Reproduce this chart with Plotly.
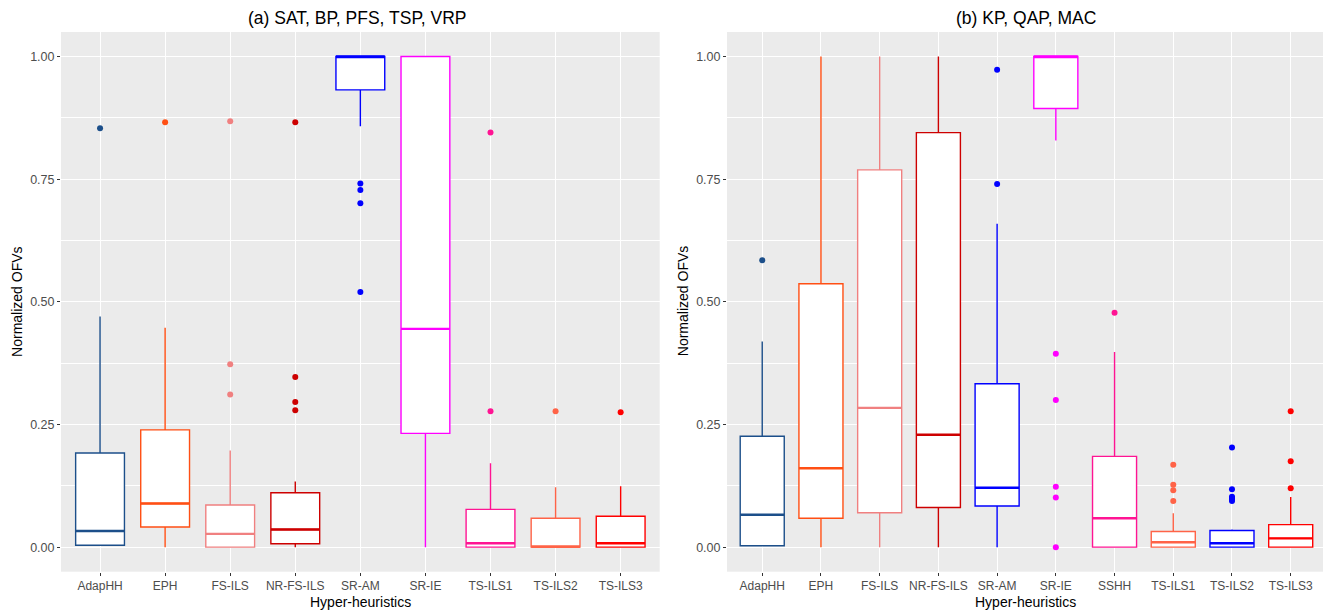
import plotly.graph_objects as go

# ---------------- data ----------------
cats_a = ["AdapHH", "EPH", "FS-ILS", "NR-FS-ILS", "SR-AM", "SR-IE", "TS-ILS1", "TS-ILS2", "TS-ILS3"]
q1_a = [0.004, 0.041, 0.0, 0.007, 0.932, 0.232, 0.0, 0.0, 0.0]
med_a = [0.033, 0.089, 0.027, 0.036, 1.0, 0.445, 0.008, 0.001, 0.008]
q3_a = [0.192, 0.239, 0.086, 0.111, 1.0, 1.0, 0.077, 0.059, 0.063]
lo_a = [0.003, 0.0, 0.0, 0.0, 0.858, 0.0, 0.0, 0.0, 0.0]
hi_a = [0.470, 0.447, 0.197, 0.134, 1.0, 1.0, 0.171, 0.122, 0.124]
out_a = [
    [0.854],
    [0.866],
    [0.868, 0.373, 0.311],
    [0.866, 0.347, 0.296, 0.279],
    [0.741, 0.728, 0.701, 0.520],
    [],
    [0.845, 0.277],
    [0.277],
    [0.275],
]
col_a = ["#1C4F8A", "#FF4F14", "#F08080", "#CD0000", "#0000FF", "#FF00FF", "#FF1493", "#FF6347", "#FF0000"]

cats_b = ["AdapHH", "EPH", "FS-ILS", "NR-FS-ILS", "SR-AM", "SR-IE", "SSHH", "TS-ILS1", "TS-ILS2", "TS-ILS3"]
q1_b = [0.003, 0.059, 0.070, 0.081, 0.084, 0.894, 0.0, 0.0, 0.0, 0.0]
med_b = [0.066, 0.161, 0.284, 0.229, 0.121, 1.0, 0.059, 0.010, 0.008, 0.018]
q3_b = [0.226, 0.537, 0.769, 0.845, 0.333, 1.0, 0.185, 0.032, 0.034, 0.046]
lo_b = [0.003, 0.0, 0.0, 0.0, 0.0, 0.829, 0.0, 0.0, 0.0, 0.0]
hi_b = [0.419, 1.0, 1.0, 1.0, 0.659, 1.0, 0.398, 0.069, 0.036, 0.102]
out_b = [
    [0.585],
    [],
    [],
    [],
    [0.973, 0.740],
    [0.394, 0.300, 0.123, 0.101, 0.0],
    [0.478],
    [0.168, 0.127, 0.116, 0.094],
    [0.203, 0.118, 0.103, 0.100, 0.097, 0.094],
    [0.277, 0.175, 0.120],
]
col_b = ["#1C4F8A", "#FF4F14", "#F08080", "#CD0000", "#0000FF", "#FF00FF", "#FF1493", "#FF6347", "#0000FF", "#FF0000"]

titles = ["(a) SAT, BP, PFS, TSP, VRP", "(b) KP, QAP, MAC"]
yticks = [0.0, 0.25, 0.5, 0.75, 1.0]

# ---------------- figure ----------------
FONT = "Liberation Sans, Arial, sans-serif"
BOXW = 0.75
fig = go.Figure()


def add_panel(cats, q1, med, q3, lo, hi, outs, cols, xa, ya):
    for i, c in enumerate(cats):
        xi = i + 1
        fig.add_trace(go.Box(
            x=[xi], q1=[q1[i]], median=[med[i]], q3=[q3[i]],
            lowerfence=[lo[i]], upperfence=[hi[i]],
            width=BOXW, whiskerwidth=0, fillcolor="white",
            line=dict(color=cols[i], width=1.4), boxpoints=False,
            showlegend=False, xaxis=xa, yaxis=ya, name=c, hoverinfo="skip"))
        fig.add_trace(go.Scatter(
            x=[xi - BOXW / 2, xi + BOXW / 2], y=[med[i], med[i]], mode="lines",
            line=dict(color=cols[i], width=2.4), showlegend=False,
            xaxis=xa, yaxis=ya, hoverinfo="skip"))
        if outs[i]:
            fig.add_trace(go.Scatter(
                x=[xi] * len(outs[i]), y=outs[i], mode="markers",
                marker=dict(color=cols[i], size=6), showlegend=False,
                xaxis=xa, yaxis=ya, hoverinfo="skip"))


add_panel(cats_a, q1_a, med_a, q3_a, lo_a, hi_a, out_a, col_a, "x", "y")
add_panel(cats_b, q1_b, med_b, q3_b, lo_b, hi_b, out_b, col_b, "x2", "y2")

W, H = 1323, 610
dom_a = [61 / W, 659.7 / W]
dom_b = [727 / W, 1.0]
ydom = [1 - 571.7 / H, 1 - 32 / H]

common_x = dict(showgrid=True, gridcolor="white", gridwidth=1.2, zeroline=False,
                ticks="outside", ticklen=3, tickcolor="#333333", tickwidth=1,
                tickfont=dict(family=FONT, size=12, color="#4D4D4D"), showline=False)
common_y = dict(range=[-0.05, 1.05], tickvals=yticks, ticktext=[f"{v:.2f}" for v in yticks],
                showgrid=True, gridcolor="white", gridwidth=1.2, zeroline=False,
                ticks="outside", ticklen=3, tickcolor="#333333", tickwidth=1,
                tickfont=dict(family=FONT, size=12.5, color="#4D4D4D"), showline=False,
                minor=dict(tickvals=[0.125, 0.375, 0.625, 0.875], showgrid=True,
                           gridcolor="white", gridwidth=0.6, ticks=""))

fig.update_layout(
    width=W, height=H, margin=dict(l=0, r=0, t=0, b=0),
    paper_bgcolor="white", plot_bgcolor="#EBEBEB",
    xaxis=dict(domain=dom_a, range=[0.4, len(cats_a) + 0.6],
               tickvals=list(range(1, len(cats_a) + 1)), ticktext=cats_a, anchor="y", **common_x),
    yaxis=dict(domain=ydom, anchor="x", **common_y),
    xaxis2=dict(domain=dom_b, range=[0.4, len(cats_b) + 0.55],
                tickvals=list(range(1, len(cats_b) + 1)), ticktext=cats_b, anchor="y2", **common_x),
    yaxis2=dict(domain=ydom, anchor="x2", **common_y),
    font=dict(family=FONT),
)

ann = []
for t, cx in zip(titles, [357.8 / W, 1025.5 / W]):
    ann.append(dict(text=t, x=cx, y=1 - 18.5 / H, xref="paper", yref="paper",
                    xanchor="center", yanchor="middle", showarrow=False,
                    font=dict(family=FONT, size=17.5, color="black")))
for cx in [(dom_a[0] + dom_a[1]) / 2, (dom_b[0] + dom_b[1]) / 2]:
    ann.append(dict(text="Hyper-heuristics", x=cx, y=1 - 601.5 / H, xref="paper", yref="paper",
                    xanchor="center", yanchor="middle", showarrow=False,
                    font=dict(family=FONT, size=14, color="black")))
for cx in [17.2 / W, 682.5 / W]:
    ann.append(dict(text="Normalized OFVs", x=cx, y=1 - 301.7 / H, xref="paper", yref="paper",
                    xanchor="center", yanchor="middle", showarrow=False, textangle=-90,
                    font=dict(family=FONT, size=14, color="black")))
fig.update_layout(annotations=ann)

fig.write_html("out.html")
